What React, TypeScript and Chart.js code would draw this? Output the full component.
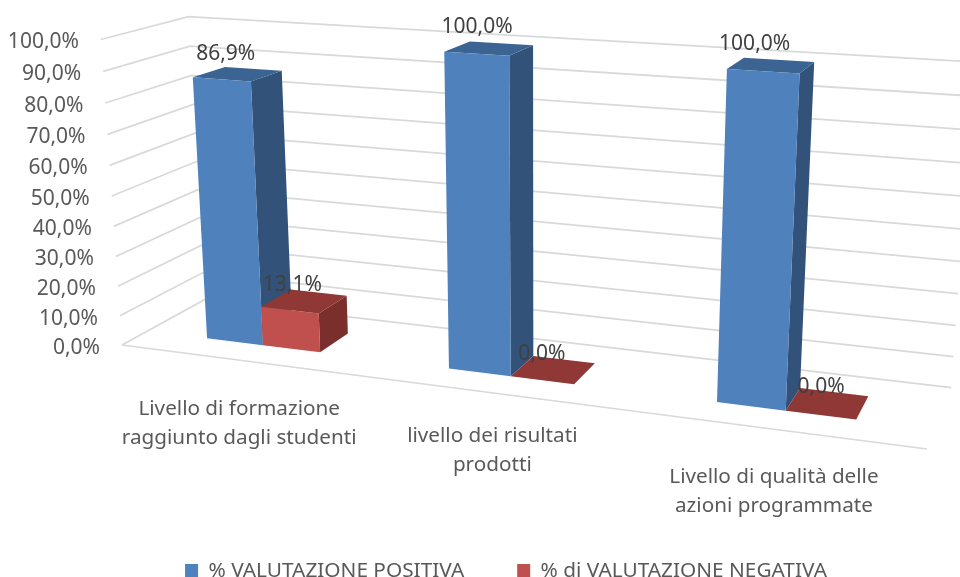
import React, { useEffect, useRef } from "react";
import { Chart, registerables } from "chart.js";

Chart.register(...registerables);

const categories: string[][] = [
  ["Livello di formazione", "raggiunto dagli studenti"],
  ["livello dei risultati", "prodotti"],
  ["Livello di qualità delle", "azioni programmate"],
];
const positiveLabel = "% VALUTAZIONE POSITIVA";
const negativeLabel = "% di VALUTAZIONE NEGATIVA";
const positiveValues = [86.9, 100, 100];
const negativeValues = [13.1, 0, 0];

const FONT = '"Noto Sans"';
const fmt = (v: number) => v.toFixed(1).replace(".", ",") + "%";

// Camera of the 3D view: corners of the plot box and perspective weights
const O = [122, 345];
const EX = [927, 449];
const EY = [101, 39.5];
const EZ = [204, 300];
const WX = 0.852;
const WY = 0.952;
const WZ = 1.082;
const Z0 = 0.3;
const Z1 = 0.69;
const CATEGORY_LABEL_NUDGE = [3, -2.5, 1.5];

function project(X: number, Y: number, Z: number): [number, number] {
  const hx =
    O[0] + X * (WX * EX[0] - O[0]) + Y * (WY * EY[0] - O[0]) + Z * (WZ * EZ[0] - O[0]);
  const hy =
    O[1] + X * (WX * EX[1] - O[1]) + Y * (WY * EY[1] - O[1]) + Z * (WZ * EZ[1] - O[1]);
  const w = 1 + X * (WX - 1) + Y * (WY - 1) + Z * (WZ - 1);
  return [hx / w, hy / w];
}

const faces = [
  { front: "#4F81BD", top: "#3C6492", side: "#325279" },
  { front: "#C0504D", top: "#8F3835", side: "#7A2F2C" },
];

function poly(ctx: CanvasRenderingContext2D, pts: [number, number][], fill: string) {
  ctx.beginPath();
  pts.forEach((p, i) => (i ? ctx.lineTo(p[0], p[1]) : ctx.moveTo(p[0], p[1])));
  ctx.closePath();
  ctx.fillStyle = fill;
  ctx.fill();
}

function line(ctx: CanvasRenderingContext2D, pts: [number, number][]) {
  ctx.beginPath();
  pts.forEach((p, i) => (i ? ctx.lineTo(p[0], p[1]) : ctx.moveTo(p[0], p[1])));
  ctx.stroke();
}

const perspectivePlugin = {
  id: "perspective",
  beforeDatasetsDraw(chart: any) {
    const { ctx, chartArea: a, scales } = chart;
    const yScale = scales.y;
    const xScale = scales.x;
    ctx.save();
    ctx.strokeStyle = "#D9D9D9";
    ctx.lineWidth = 1.75;
    yScale.ticks.forEach((t: any) => {
      const Y = (a.bottom - yScale.getPixelForValue(t.value)) / a.height;
      line(ctx, [project(0, Y, 0), project(0, Y, 1), project(1, Y, 1)]);
    });
    line(ctx, [project(0, 0, 0), project(1, 0, 0)]);

    ctx.font = `21px ${FONT}`;
    ctx.fillStyle = "#595959";
    ctx.textBaseline = "middle";
    ctx.textAlign = "right";
    yScale.ticks.forEach((t: any) => {
      const Y = (a.bottom - yScale.getPixelForValue(t.value)) / a.height;
      const p = project(0, Y, 0);
      ctx.fillText(t.label, p[0] - 22, p[1] + 3);
    });
    ctx.textAlign = "center";
    ctx.font = `20.7px ${FONT}`;
    xScale.ticks.forEach((t: any, i: number) => {
      const X = (xScale.getPixelForValue(t.value) - a.left) / a.width;
      const p = project(X, 0, 0);
      categories[i].forEach((s, k) =>
        ctx.fillText(s, p[0], p[1] + 46 + CATEGORY_LABEL_NUDGE[i] + k * 29),
      );
    });
    ctx.restore();
  },
  beforeDatasetDraw() {
    return false;
  },
  afterDatasetsDraw(chart: any) {
    const { ctx, chartArea: a } = chart;
    const labels: { t: string; x: number; y: number }[] = [];
    const metas = chart.data.datasets.map((_: any, i: number) => chart.getDatasetMeta(i));
    categories.forEach((_, c) => {
      metas.forEach((meta: any, d: number) => {
        const bar = meta.data[c];
        const L = (bar.x - bar.width / 2 - a.left) / a.width;
        const R = (bar.x + bar.width / 2 - a.left) / a.width;
        const T = (a.bottom - bar.y) / a.height;
        const B = (a.bottom - bar.base) / a.height;
        const f = faces[d];
        if (T > B) {
          poly(ctx, [project(R, B, Z0), project(R, B, Z1), project(R, T, Z1), project(R, T, Z0)], f.side);
        }
        poly(ctx, [project(L, T, Z0), project(R, T, Z0), project(R, T, Z1), project(L, T, Z1)], f.top);
        if (T > B) {
          poly(ctx, [project(L, B, Z0), project(R, B, Z0), project(R, T, Z0), project(L, T, Z0)], f.front);
        }
        const mid = (L + R) / 2;
        const p = project(mid, T, (Z0 + Z1) / 2);
        const dx = -12 + Math.max(0, mid - 0.5) * 15 * (1 - 2 * T);
        const dy = -16 - 5 * T;
        labels.push({ t: fmt(chart.data.datasets[d].data[c]), x: p[0] + dx, y: p[1] + dy });
      });
    });
    ctx.save();
    ctx.font = `21px ${FONT}`;
    ctx.fillStyle = "#404040";
    ctx.textAlign = "center";
    ctx.textBaseline = "middle";
    labels.forEach((l) => ctx.fillText(l.t, l.x, l.y));
    ctx.restore();
  },
};

export default function App() {
  const ref = useRef<HTMLCanvasElement>(null);
  useEffect(() => {
    const chart = new Chart(ref.current as HTMLCanvasElement, {
      type: "bar",
      data: {
        labels: categories.map((c) => c.join(" ")),
        datasets: [
          { label: positiveLabel, data: positiveValues, backgroundColor: faces[0].front },
          { label: negativeLabel, data: negativeValues, backgroundColor: faces[1].front },
        ],
      },
      options: {
        responsive: false,
        animation: false,
        categoryPercentage: 0.48,
        barPercentage: 1,
        layout: { padding: { left: 52, bottom: -14 } },
        scales: {
          x: { display: false },
          y: {
            display: false,
            min: 0,
            max: 100,
            ticks: { stepSize: 10, callback: (v: any) => fmt(Number(v)) },
          },
        },
        plugins: {
          tooltip: { enabled: false },
          legend: {
            position: "bottom",
            labels: {
              boxWidth: 13,
              boxHeight: 13,
              padding: 53,
              color: "#595959",
              font: { family: FONT, size: 20.8 },
            },
          },
        },
      } as any,
      plugins: [perspectivePlugin as any],
    });
    return () => chart.destroy();
  }, []);
  return (
    <div style={{ position: "absolute", left: 0, top: 0, width: 960, height: 577, background: "#fff" }}>
      <canvas ref={ref} width={960} height={577} style={{ display: "block" }} />
    </div>
  );
}
